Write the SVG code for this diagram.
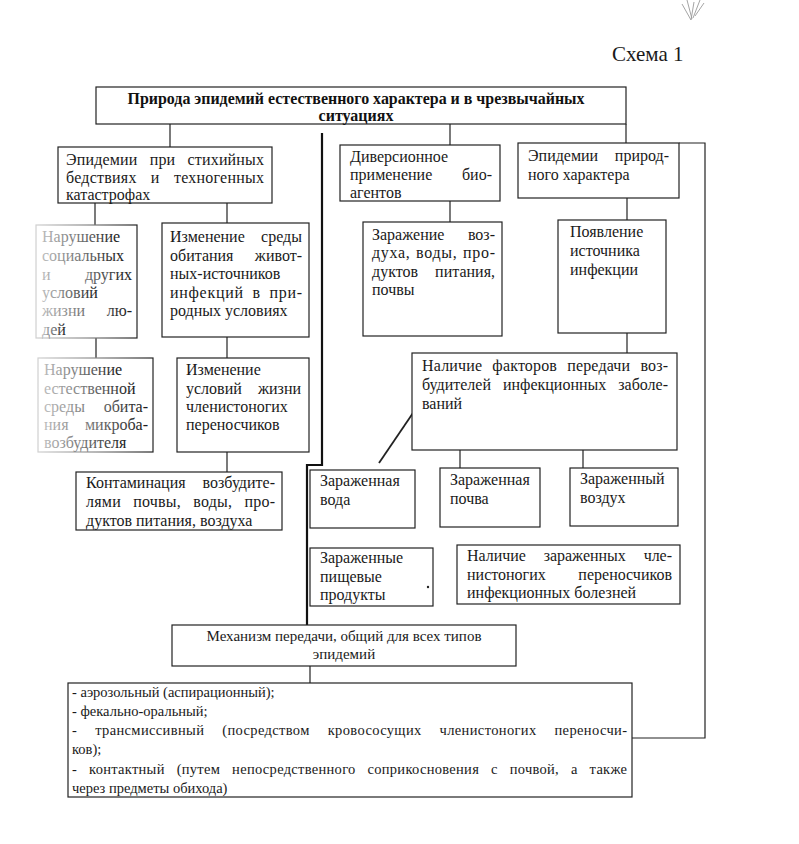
<svg xmlns="http://www.w3.org/2000/svg" width="799" height="844" viewBox="0 0 799 844">
<defs>
<style>
.bx{fill:#fff;stroke:#222;stroke-width:1.2}
.fb{fill:#fff;stroke:url(#fs);stroke-width:1.2}
.t{font-family:"Liberation Serif","Times New Roman",serif;font-size:16px;fill:#1a1a1a}
.ft{font-family:"Liberation Serif","Times New Roman",serif;font-size:16px;fill:url(#ftx)}
.s{font-family:"Liberation Serif","Times New Roman",serif;font-size:14.5px;fill:#1a1a1a}
.hd{font-family:"Liberation Serif","Times New Roman",serif;font-size:16px;font-weight:bold;fill:#111}
.c{fill:none;stroke:#222;stroke-width:1.2}
.ck{fill:none;stroke:#111;stroke-width:2.2}
.e{text-anchor:end}
.m{text-anchor:middle}
</style>
<linearGradient id="fs" x1="0" y1="0" x2="1" y2="0">
<stop offset="0" stop-color="#d0d0d0"/><stop offset="0.5" stop-color="#888"/><stop offset="1" stop-color="#222"/>
</linearGradient>
<linearGradient id="ftx" x1="0" y1="0" x2="1" y2="0">
<stop offset="0" stop-color="#bbb"/><stop offset="0.45" stop-color="#777"/><stop offset="1" stop-color="#1a1a1a"/>
</linearGradient>
</defs>
<rect width="799" height="844" fill="#fff"/>

<g id="mark" fill="none" stroke="#9a9a9a" stroke-width="0.9">
<path d="M682 4 L691 20 L694 2"/><path d="M687 0 L692 19"/><path d="M700 0 L693 18"/><path d="M704 3 L695 16"/>
</g>
<text class="t" x="612" y="61" style="font-size:21px">Схема 1</text>

<g id="connectors">
<path class="c" d="M170 124 V147"/>
<path class="c" d="M450 124 V145"/>
<path class="c" d="M626 124 V143"/>
<path class="c" d="M679 143 H705 V738 H632"/>
<path class="c" d="M95 203 V225"/>
<path class="c" d="M227 203 V223"/>
<path class="c" d="M96 338 V358"/>
<path class="c" d="M227 337 V358"/>
<path class="c" d="M227 452 V472"/>
<path class="c" d="M450 201 V222"/>
<path class="c" d="M627 198 V220"/>
<path class="c" d="M627 333 V353"/>
<path class="c" d="M460 450 V468"/>
<path class="c" d="M583 450 V468"/>
<path class="c" d="M379 463 L415 410" style="stroke-width:1.8"/>
<path class="ck" d="M322 133 V465 H307 V625"/>
<path class="c" d="M310 666 V683"/>
</g>

<g id="n-top">
<rect class="bx" x="96" y="87" width="530" height="37"/>
<text class="hd m" x="356" y="104" textLength="457" lengthAdjust="spacingAndGlyphs">Природа эпидемий естественного характера и в чрезвычайных</text>
<text class="hd m" x="356" y="121">ситуациях</text>
</g>

<g id="n-disasters">
<rect class="bx" x="58" y="147" width="214" height="56"/>
<text class="t" x="66" y="165" textLength="198" lengthAdjust="spacing" style="word-spacing:8px">Эпидемии при стихийных</text>
<text class="t" x="66" y="183" textLength="198" lengthAdjust="spacing" style="word-spacing:10px">бедствиях и техногенных</text>
<text class="t" x="66" y="200">катастрофах</text>
</g>

<g id="n-diversion">
<rect class="bx" x="340" y="145" width="160" height="56"/>
<text class="t" x="350" y="162">Диверсионное</text>
<text class="t" y="180"><tspan x="350">применение</tspan> <tspan class="e" x="492">био-</tspan></text>
<text class="t" x="350" y="198">агентов</text>
</g>

<g id="n-natural">
<rect class="bx" x="518" y="143" width="161" height="55"/>
<text class="t" y="161"><tspan x="528">Эпидемии</tspan> <tspan class="e" x="669">природ-</tspan></text>
<text class="t" x="528" y="180">ного характера</text>
</g>

<g id="n-social">
<rect class="fb" x="36" y="225" width="101" height="113"/>
<text class="ft" x="42" y="242">Нарушение</text>
<text class="ft" x="42" y="261">социальных</text>
<text class="ft" y="280"><tspan x="42">и</tspan> <tspan class="e" x="132">других</tspan></text>
<text class="ft" x="42" y="298">условий</text>
<text class="ft" y="316"><tspan x="42">жизни</tspan> <tspan class="e" x="132">лю-</tspan></text>
<text class="ft" x="42" y="335">дей</text>
</g>

<g id="n-habitat">
<rect class="bx" x="162" y="223" width="147" height="114"/>
<text class="t" y="242"><tspan x="170">Изменение</tspan> <tspan class="e" x="302">среды</tspan></text>
<text class="t" y="261"><tspan x="170">обитания</tspan> <tspan class="e" x="302">живот-</tspan></text>
<text class="t" x="170" y="279">ных-источников</text>
<text class="t" x="170" y="298" textLength="132" lengthAdjust="spacing" style="word-spacing:4px">инфекций в при-</text>
<text class="t" x="170" y="316">родных условиях</text>
</g>

<g id="n-contamination-air">
<rect class="bx" x="363" y="222" width="139" height="114"/>
<text class="t" y="240"><tspan x="372">Заражение</tspan> <tspan class="e" x="495">воз-</tspan></text>
<text class="t" x="372" y="258" textLength="123" lengthAdjust="spacing" style="word-spacing:1px">духа, воды, про-</text>
<text class="t" y="277"><tspan x="372">дуктов</tspan> <tspan class="e" x="495">питания,</tspan></text>
<text class="t" x="372" y="295">почвы</text>
</g>

<g id="n-source">
<rect class="bx" x="558" y="220" width="108" height="113"/>
<text class="t" x="570" y="237">Появление</text>
<text class="t" x="570" y="256">источника</text>
<text class="t" x="570" y="275">инфекции</text>
</g>

<g id="n-microbe">
<rect class="fb" x="38" y="358" width="115" height="94"/>
<text class="ft" x="44" y="375">Нарушение</text>
<text class="ft" x="44" y="394">естественной</text>
<text class="ft" y="412"><tspan x="44">среды</tspan> <tspan class="e" x="148">обита-</tspan></text>
<text class="ft" y="430"><tspan x="44">ния</tspan> <tspan class="e" x="148">микроба-</tspan></text>
<text class="ft" x="44" y="448">возбудителя</text>
</g>

<g id="n-vectors">
<rect class="bx" x="177" y="358" width="132" height="94"/>
<text class="t" x="186" y="375">Изменение</text>
<text class="t" y="394"><tspan x="186">условий</tspan> <tspan class="e" x="301">жизни</tspan></text>
<text class="t" x="186" y="412">членистоногих</text>
<text class="t" x="186" y="430">переносчиков</text>
</g>

<g id="n-factors">
<rect class="bx" x="412" y="353" width="265" height="97"/>
<text class="t" x="422" y="371" textLength="246" lengthAdjust="spacing" style="word-spacing:6px">Наличие факторов передачи воз-</text>
<text class="t" x="422" y="390" textLength="246" lengthAdjust="spacing" style="word-spacing:8px">будителей инфекционных заболе-</text>
<text class="t" x="422" y="409">ваний</text>
</g>

<g id="n-contamination">
<rect class="bx" x="76" y="472" width="206" height="58"/>
<text class="t" y="488"><tspan x="86">Контаминация</tspan> <tspan class="e" x="275">возбудите-</tspan></text>
<text class="t" x="86" y="507" textLength="189" lengthAdjust="spacing" style="word-spacing:8px">лями почвы, воды, про-</text>
<text class="t" x="86" y="526">дуктов питания, воздуха</text>
</g>

<g id="n-water">
<rect class="bx" x="310" y="470" width="105" height="58"/>
<text class="t" x="320" y="486">Зараженная</text>
<text class="t" x="320" y="505">вода</text>
</g>

<g id="n-soil">
<rect class="bx" x="440" y="468" width="100" height="59"/>
<text class="t" x="450" y="485">Зараженная</text>
<text class="t" x="450" y="504">почва</text>
</g>

<g id="n-air">
<rect class="bx" x="570" y="468" width="108" height="58"/>
<text class="t" x="580" y="484">Зараженный</text>
<text class="t" x="580" y="503">воздух</text>
</g>

<g id="n-food">
<rect class="bx" x="310" y="548" width="123" height="58"/>
<text class="t" x="320" y="563">Зараженные</text>
<text class="t" x="320" y="582">пищевые</text>
<text class="t" x="320" y="600">продукты</text>
<circle cx="428" cy="587" r="1.2" fill="#222"/>
</g>

<g id="n-arthropods">
<rect class="bx" x="457" y="545" width="223" height="59"/>
<text class="t" x="467" y="561" textLength="205" lengthAdjust="spacing" style="word-spacing:14px">Наличие зараженных чле-</text>
<text class="t" y="580"><tspan x="467">нистоногих</tspan> <tspan class="e" x="672">переносчиков</tspan></text>
<text class="t" x="467" y="598">инфекционных болезней</text>
</g>

<g id="n-mechanism">
<rect class="bx" x="172" y="625" width="344" height="41"/>
<text class="s m" x="344" y="641" style="font-size:15px">Механизм передачи, общий для всех типов</text>
<text class="s m" x="344" y="659" style="font-size:15px">эпидемий</text>
</g>

<g id="n-list">
<rect class="bx" x="68" y="683" width="564" height="114"/>
<text class="s" x="72" y="697">- аэрозольный (аспирационный);</text>
<text class="s" x="72" y="716">- фекально-оральный;</text>
<text class="s" x="72" y="735" textLength="555" lengthAdjust="spacing" style="word-spacing:14px">- трансмиссивный (посредством кровососущих членистоногих переносчи-</text>
<text class="s" x="72" y="754">ков);</text>
<text class="s" x="72" y="774" textLength="555" lengthAdjust="spacing" style="word-spacing:8px">- контактный (путем непосредственного соприкосновения с почвой, а также</text>
<text class="s" x="72" y="793">через предметы обихода)</text>
</g>
</svg>
